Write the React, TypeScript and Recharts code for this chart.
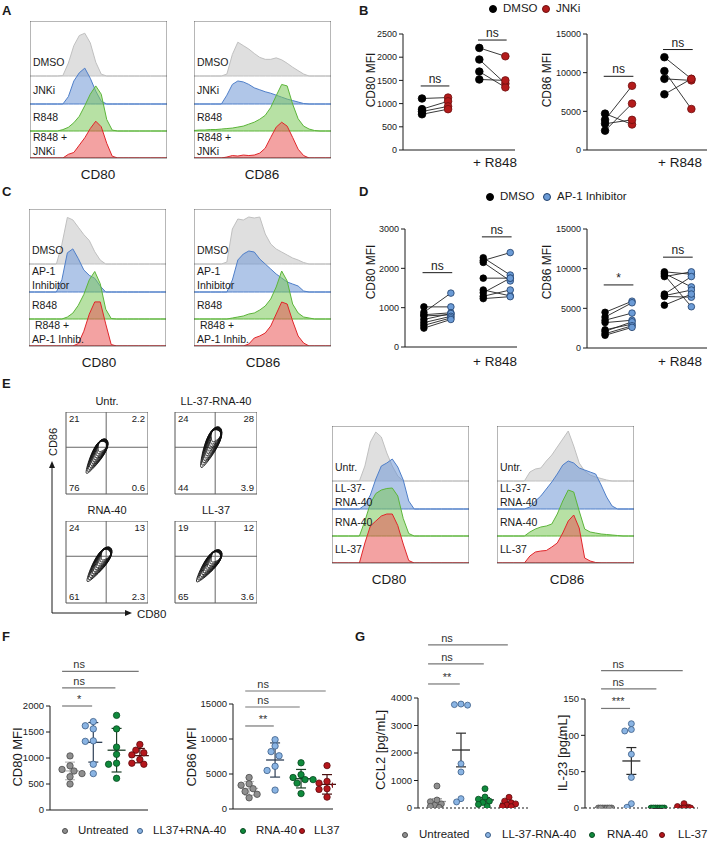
import React from "react";
import {
  ComposedChart,
  Area,
  Line,
  Scatter,
  XAxis,
  YAxis,
  ReferenceLine,
  ReferenceArea,
  ReferenceDot,
  Label,
} from "recharts";

const FONT = '"Liberation Sans", Arial, Helvetica, sans-serif';
const INK = "#1a1a1a";

/* ---------- A / C / E: histograms, counts as % of mode on a 0-100 channel grid ---------- */
const HIST_X = [0, 4, 8, 12, 16, 20, 24, 28, 32, 36, 40, 44, 48, 52, 56, 60, 64, 68, 72, 76, 80, 84, 88, 92, 96, 100];
const HIST_TICKS = [7, 14, 18, 20, 21, 22, 22.8, 23.5, 31, 39, 43, 46, 48, 49.5, 57, 66, 71, 75, 78, 80, 81.5, 91, 98];

const A80_DMSO = [0, 0, 0, 0, 0, 0, 1, 28, 66, 88, 93, 72, 30, 4, 0, 0, 0, 0, 0, 0, 0, 0, 0, 0, 0, 0];
const A80_JNKI = [0, 0, 0, 0, 0, 0, 0, 16, 50, 68, 78, 56, 28, 6, 0, 0, 0, 0, 0, 0, 0, 0, 0, 0, 0, 0];
const A80_R848 = [0, 0, 0, 0, 0, 0, 3, 8, 18, 32, 55, 80, 98, 80, 25, 2, 0, 0, 0, 0, 0, 0, 0, 0, 0, 0];
const A80_R848_JNKI = [0, 0, 0, 0, 0, 0, 0, 8, 12, 28, 44, 64, 80, 68, 32, 4, 0, 0, 0, 0, 0, 0, 0, 0, 0, 0];

const A86_DMSO = [0, 0, 0, 0, 0, 0, 4, 44, 69, 62, 55, 46, 38, 34, 34, 37, 33, 26, 18, 11, 4, 0, 0, 0, 0, 0];
const A86_JNKI = [0, 0, 0, 0, 0, 0, 18, 40, 47, 45, 40, 33, 29, 25, 22, 18, 14, 10, 7, 4, 1, 0, 0, 0, 0, 0];
const A86_R848 = [1, 2, 2, 3, 3, 4, 5, 6, 8, 10, 14, 18, 24, 32, 48, 72, 95, 92, 55, 25, 10, 4, 1, 0, 0, 0];
const A86_R848_JNKI = [0, 0, 0, 0, 0, 0, 2, 5, 4, 6, 5, 6, 10, 20, 42, 63, 73, 65, 42, 18, 5, 0, 0, 0, 0, 0];

const C80_DMSO = [0, 0, 0, 0, 0, 0, 40, 95, 90, 75, 60, 48, 25, 8, 0, 0, 0, 0, 0, 0, 0, 0, 0, 0, 0, 0];
const C80_AP1 = [0, 0, 0, 0, 0, 0, 25, 80, 88, 68, 45, 34, 28, 12, 0, 0, 0, 0, 0, 0, 0, 0, 0, 0, 0, 0];
const C80_R848 = [0, 0, 0, 0, 0, 0, 0, 4, 12, 28, 50, 80, 97, 72, 20, 1, 0, 0, 0, 0, 0, 0, 0, 0, 0, 0];
const C80_R848_AP1 = [0, 0, 0, 0, 0, 0, 0, 0, 0, 5, 30, 65, 90, 90, 45, 3, 0, 0, 0, 0, 0, 0, 0, 0, 0, 0];

const C86_DMSO = [0, 0, 0, 0, 0, 0, 4, 70, 90, 88, 94, 92, 94, 60, 40, 30, 24, 18, 12, 8, 3, 0, 0, 0, 0, 0];
const C86_AP1 = [0, 0, 0, 0, 0, 0, 0, 24, 64, 76, 82, 80, 66, 56, 46, 36, 28, 20, 16, 12, 2, 0, 0, 0, 0, 0];
const C86_R848 = [0, 0, 0, 0, 0, 0, 0, 2, 4, 6, 10, 12, 18, 26, 40, 64, 96, 76, 30, 12, 4, 2, 0, 0, 0, 0];
const C86_R848_AP1 = [0, 0, 0, 0, 0, 0, 0, 0, 0, 0, 4, 16, 20, 26, 40, 64, 88, 84, 50, 20, 6, 0, 0, 0, 0, 0];

const E80_UNTR = [0, 0, 0, 0, 0, 0, 30, 78, 98, 88, 56, 30, 10, 0, 0, 0, 0, 0, 0, 0, 0, 0, 0, 0, 0, 0];
const E80_LL37_RNA40 = [0, 0, 0, 0, 0, 0, 8, 28, 60, 86, 92, 100, 84, 58, 16, 0, 0, 0, 0, 0, 0, 0, 0, 0, 0, 0];
const E80_RNA40 = [0, 0, 0, 0, 0, 0, 30, 65, 85, 92, 95, 96, 80, 35, 5, 0, 0, 0, 0, 0, 0, 0, 0, 0, 0, 0];
const E80_LL37 = [0, 0, 0, 0, 0, 0, 40, 74, 84, 94, 98, 98, 75, 38, 5, 0, 0, 0, 0, 0, 0, 0, 0, 0, 0, 0];

const E86_UNTR = [0, 0, 0, 0, 0, 0, 18, 24, 26, 40, 52, 68, 84, 100, 70, 36, 20, 12, 8, 5, 2, 0, 0, 0, 0, 0];
const E86_LL37_RNA40 = [0, 0, 0, 0, 0, 0, 4, 16, 26, 40, 54, 70, 88, 96, 92, 82, 78, 74, 70, 48, 24, 6, 0, 0, 0, 0];
const E86_RNA40 = [0, 0, 0, 0, 0, 0, 8, 14, 18, 20, 24, 44, 70, 92, 88, 50, 14, 8, 6, 4, 3, 2, 1, 0, 0, 0];
const E86_LL37 = [0, 0, 0, 0, 0, 0, 14, 22, 24, 25, 32, 40, 60, 84, 96, 70, 10, 4, 1, 0, 0, 0, 0, 0, 0, 0];

const A_LANES = [["DMSO"], ["JNKi"], ["R848"], ["R848 +", "JNKi"]];
const C_LANES = [["DMSO"], ["AP-1", "Inhibitor"], ["R848"], ["\u00a0R848 +", "AP-1 Inhib."]];
const E_LANES = [["Untr."], ["LL-37-", "RNA-40"], ["RNA-40"], ["LL-37"]];

/* ---------- B / D: paired donors (MFI) ---------- */
const B80_DMSO = [1110, 880, 830, 770];
const B80_JNKI = [1130, 1050, 940, 880];
const B80_R848_DMSO = [2200, 1950, 1690, 1520];
const B80_R848_JNKI = [2020, 1430, 1350, 1500];
const B86_DMSO = [4700, 3900, 3400, 2500];
const B86_JNKI = [3300, 8300, 3900, 6000];
const B86_R848_DMSO = [12000, 10200, 9200, 7200];
const B86_R848_JNKI = [9200, 5300, 9000, 9200];
const B80_SIG = [1380, 2370];
const B86_SIG = [9530, 12990];

const D80_DMSO = [1020, 880, 820, 790, 700, 620, 550, 480];
const D80_AP1 = [1020, 1370, 870, 820, 850, 780, 740, 700];
const D80_R848_DMSO = [2270, 2200, 2150, 1750, 1450, 1380, 1290, 1230];
const D80_R848_AP1 = [1830, 2400, 1680, 1750, 1300, 1750, 1450, 1280];
const D86_DMSO = [4500, 3900, 3500, 3200, 2300, 2100, 1800, 1600];
const D86_AP1 = [5900, 5700, 4400, 3500, 3000, 3300, 2800, 2600];
const D86_R848_DMSO = [9600, 9400, 9200, 9000, 6800, 6600, 6500, 5400];
const D86_R848_AP1 = [9300, 7700, 5200, 9600, 9000, 7300, 6400, 6800];
const D80_SIG = [1890, 2800];
const D86_SIG = [7950, 11450];

/* ---------- E: contour populations (centre, half length, half width, tilt) ---------- */
const CONTOUR_TITLES = ["Untr.", "LL-37-RNA-40", "RNA-40", "LL-37"];
const CONTOUR_QUADS = [
  ["21", "2.2", "76", "0.6"],
  ["24", "28", "44", "3.9"],
  ["24", "13", "61", "2.3"],
  ["19", "12", "65", "3.6"],
];
const CONTOUR_BLOBS = [
  { cx: 37, cy: 46, len: 24, wid: 8.5, angle: 60 },
  { cx: 43, cy: 57, len: 27, wid: 9.5, angle: 66 },
  { cx: 40, cy: 47, len: 25, wid: 9, angle: 56 },
  { cx: 41, cy: 45, len: 24, wid: 9, angle: 53 },
];
const CONTOUR_TICKS_X = [8, 20, 24, 26, 27.5, 29, 45, 60, 68, 73, 76, 78, 80, 92];
const CONTOUR_TICKS_Y = [6, 30, 40, 46, 50, 53, 72, 92];

/* ---------- F / G: per-donor values ---------- */
const F_GROUPS = ["Untreated", "LL37+RNA-40", "RNA-40", "LL37"];
const G_GROUPS = ["Untreated", "LL-37-RNA-40", "RNA-40", "LL-37"];

const F80_UNTR = [1040, 850, 780, 750, 700, 640, 500];
const F80_LL37_RNA40 = [1700, 1620, 1560, 1330, 1320, 880, 700];
const F80_RNA40 = [1820, 1560, 1210, 1070, 900, 880, 610];
const F80_LL37 = [1260, 1150, 1100, 1060, 970, 900, 880];
const F86_UNTR = [4500, 3600, 3400, 2900, 2500, 2100, 1600];
const F86_LL37_RNA40 = [9900, 9000, 8200, 7600, 6100, 5500, 2700];
const F86_RNA40 = [6600, 4900, 4500, 4200, 4200, 3700, 2200];
const F86_LL37 = [6200, 3950, 3700, 3400, 2900, 2800, 1700];
const F80_SIG = [2000, 2350, 2665];
const F86_SIG = [11860, 14570, 16860];

const CCL2_UNTR = [800, 290, 230, 150, 100, 60, 20];
const CCL2_LL37_RNA40 = [3780, 3760, 3740, 1610, 1310, 340, 220];
const CCL2_RNA40 = [700, 400, 320, 250, 200, 130, 60];
const CCL2_LL37 = [390, 250, 190, 150, 110, 60, 50];
const IL23_UNTR = [0, 0, 0, 0, 0, 0, 0];
const IL23_LL37_RNA40 = [116, 108, 106, 74, 42, 6, 1];
const IL23_RNA40 = [0, 0, 0, 0, 0, 0, 0];
const IL23_LL37 = [6, 2, 1, 0, 0, 0, 0];
const CCL2_SIG = [4510, 5240, 5930];
const IL23_SIG = [137, 164, 189];

/* ---------- styles ---------- */
const LANE_STYLE = [
  { fill: "#d4d4d4", stroke: "#c0c0c0", opacity: 0.75 },
  { fill: "#6f98d6", stroke: "#4f7fc9", opacity: 0.55 },
  { fill: "#7cc85a", stroke: "#5cb53a", opacity: 0.55 },
  { fill: "#ea5656", stroke: "#e0262a", opacity: 0.55 },
];
const LANE_BASE = [82, 54, 27, 0];
const HIST_W = 137;
const HIST_H = 137;

const GROUP_STYLE = [
  { fill: "#8f8f8f", stroke: "#4d4d4d", barF: "#b8b8b8", barG: "#9a9a9a" },
  { fill: "#8ab4e3", stroke: "#3b5d86", barF: "#2e3f55", barG: "#2a2a2a" },
  { fill: "#0f8a3c", stroke: "#08481f", barF: "#1c3d26", barG: "#2a2a2a" },
  { fill: "#b5161c", stroke: "#5e0b0e", barF: "#4a1010", barG: "#2a2a2a" },
];

const PAIR_X = [
  [0, 1],
  [2.2, 3.2],
];

/* ---------- small helpers ---------- */
function Txt({
  x,
  y,
  size = 11,
  anchor = "start",
  bold = false,
  rotate = false,
  children,
}: {
  x: number;
  y: number;
  size?: number;
  anchor?: "start" | "middle" | "end";
  bold?: boolean;
  rotate?: boolean;
  children: React.ReactNode;
}) {
  const tx = anchor === "start" ? "0" : anchor === "middle" ? "-50%" : "-100%";
  return (
    <div
      style={{
        position: "absolute",
        left: x,
        top: y,
        transform: rotate ? "translate(-50%,-50%) rotate(-90deg)" : `translate(${tx},-50%)`,
        fontSize: size,
        fontWeight: bold ? 700 : 400,
        whiteSpace: "nowrap",
        lineHeight: 1.15,
      }}
    >
      {children}
    </div>
  );
}

function Dot({ x, y, r, fill, stroke }: { x: number; y: number; r: number; fill: string; stroke: string }) {
  return (
    <div
      style={{
        position: "absolute",
        left: x - r,
        top: y - r,
        width: r * 2,
        height: r * 2,
        boxSizing: "border-box",
        borderRadius: "50%",
        background: fill,
        border: `1px solid ${stroke}`,
      }}
    />
  );
}

const circle = (r: number, fill: string, stroke: string) => (p: any) =>
  <circle cx={p.cx} cy={p.cy} r={r} fill={fill} stroke={stroke} strokeWidth={0.8} />;

/* ---------- histogram overlay panel ---------- */
function HistBox({
  x,
  y,
  curves,
  scale,
  lanes,
  title,
  titleX,
}: {
  x: number;
  y: number;
  curves: number[][];
  scale: number;
  lanes: string[][];
  title: string;
  titleX: number;
}) {
  const rows = HIST_X.map((v, i) => ({ x: v, c0: curves[0][i], c1: curves[1][i], c2: curves[2][i], c3: curves[3][i] }));
  return (
    <>
      <div style={{ position: "absolute", left: x, top: y }}>
        <ComposedChart width={HIST_W} height={HIST_H + 4} data={rows} margin={{ top: 0, right: 0, bottom: 0, left: 0 }}>
          <XAxis
            dataKey="x"
            type="number"
            domain={[0, 100]}
            allowDataOverflow
            ticks={HIST_TICKS}
            interval={0}
            tick={false}
            tickSize={3}
            tickLine={{ stroke: "#333", strokeWidth: 0.7 }}
            axisLine={false}
            height={4}
          />
          <YAxis type="number" domain={[0, HIST_H]} allowDataOverflow hide />
          {LANE_STYLE.map((s, k) => (
            <Area
              key={k}
              type="linear"
              dataKey={(d: any) => [LANE_BASE[k], LANE_BASE[k] + d["c" + k] * scale]}
              fill={s.fill}
              fillOpacity={s.opacity}
              stroke={s.stroke}
              strokeWidth={1}
              dot={false}
              activeDot={false}
              isAnimationActive={false}
            />
          ))}
          <ReferenceArea x1={0} x2={100} y1={0} y2={HIST_H} fill="none" stroke="#4a4a4a" strokeWidth={0.8} />
        </ComposedChart>
      </div>
      {lanes.map((lines, k) => {
        const centre = y + (HIST_H - LANE_BASE[k]) - 14;
        return (
          <div
            key={k}
            style={{
              position: "absolute",
              left: x + 3,
              top: centre,
              transform: "translateY(-50%)",
              fontSize: 10.5,
              lineHeight: "14px",
              whiteSpace: "nowrap",
            }}
          >
            {lines.map((l, j) => (
              <div key={j}>{l}</div>
            ))}
          </div>
        );
      })}
      <Txt x={titleX} y={y + HIST_H + 17} size={13.5} anchor="middle">
        {title}
      </Txt>
    </>
  );
}

/* ---------- paired donor plot (B, D) ---------- */
function PairPlot({
  box,
  xDomain,
  yMax,
  yTicks,
  ctrl,
  trt,
  trtFill,
  trtStroke,
  r,
  sig,
  sigLabels,
}: {
  box: number[];
  xDomain: number[];
  yMax: number;
  yTicks: number[];
  ctrl: number[][];
  trt: number[][];
  trtFill: string;
  trtStroke: string;
  r: number;
  sig: number[];
  sigLabels: string[];
}) {
  const [px0, py0, px1, py1] = box;
  const yw = 34;
  const mt = 8;
  const mb = 4;
  const mr = 4;
  const pairs = ctrl.flatMap((g, gi) =>
    g.map((v, i) => [
      { x: PAIR_X[gi][0], y: v },
      { x: PAIR_X[gi][1], y: trt[gi][i] },
    ])
  );
  const ctrlPts = ctrl.flatMap((g, gi) => g.map((v) => ({ x: PAIR_X[gi][0], y: v })));
  const trtPts = trt.flatMap((g, gi) => g.map((v) => ({ x: PAIR_X[gi][1], y: v })));
  return (
    <div style={{ position: "absolute", left: px0 - yw, top: py0 - mt }}>
      <ComposedChart
        width={px1 - px0 + yw + mr}
        height={py1 - py0 + mt + mb + 1}
        margin={{ top: mt, right: mr, bottom: mb, left: 0 }}
      >
        <XAxis
          dataKey="x"
          type="number"
          domain={xDomain}
          allowDataOverflow
          tick={false}
          tickLine={false}
          axisLine={{ stroke: INK, strokeWidth: 1 }}
          height={1}
        />
        <YAxis
          dataKey="y"
          type="number"
          domain={[0, yMax]}
          allowDataOverflow
          ticks={yTicks}
          interval={0}
          width={yw}
          tickSize={4}
          tickMargin={2}
          tick={{ fontSize: 9, fill: INK }}
          axisLine={{ stroke: INK, strokeWidth: 1 }}
          tickLine={{ stroke: INK }}
        />
        {pairs.map((d, i) => (
          <Line
            key={i}
            data={d}
            dataKey="y"
            type="linear"
            stroke="#222"
            strokeWidth={0.9}
            dot={false}
            activeDot={false}
            isAnimationActive={false}
          />
        ))}
        <Scatter data={ctrlPts} dataKey="y" shape={circle(r, "#000", "#000")} isAnimationActive={false} />
        <Scatter data={trtPts} dataKey="y" shape={circle(r, trtFill, trtStroke)} isAnimationActive={false} />
        {sig.map((v, gi) => (
          <ReferenceLine
            key={"s" + gi}
            segment={[
              { x: PAIR_X[gi][0] - 0.05, y: v },
              { x: PAIR_X[gi][1] + 0.05, y: v },
            ]}
            stroke={INK}
            strokeWidth={1}
            ifOverflow="visible"
          />
        ))}
        {sig.map((v, gi) => (
          <ReferenceDot
            key={"l" + gi}
            x={(PAIR_X[gi][0] + PAIR_X[gi][1]) / 2}
            y={v}
            r={0}
            fill="none"
            stroke="none"
            ifOverflow="visible"
            label={{ value: sigLabels[gi], position: "top", offset: 3, fontSize: 12, fill: INK }}
          />
        ))}
      </ComposedChart>
    </div>
  );
}

/* ---------- simple beeswarm: horizontal offsets (px) so points do not overlap ---------- */
function swarm(vals: number[], pyPerUnit: number, step: number, thr: number) {
  const order = vals.map((_, i) => i).sort((a, b) => vals[b] - vals[a]);
  const placed: { dx: number; py: number }[] = [];
  const out = vals.map(() => 0);
  const cands = [0, -1, 1, -2, 2, -3, 3].map((k) => k * step);
  for (const i of order) {
    const py = vals[i] * pyPerUnit;
    let best = 0;
    let bestD = -1;
    for (const c of cands) {
      const d = placed.reduce((m, p) => Math.min(m, Math.hypot(p.dx - c, p.py - py)), Infinity);
      if (d >= thr) {
        best = c;
        break;
      }
      if (d > bestD) {
        bestD = d;
        best = c;
      }
    }
    placed.push({ dx: best, py });
    out[i] = best;
  }
  return out;
}

/* ---------- group dot plot with mean +/- SD (F) or SEM (G) ---------- */
function DotPlot({
  box,
  xDomain,
  yMax,
  yTicks,
  groups,
  r,
  step,
  sem,
  sig,
  sigLabels,
  sigStart,
  labelX,
}: {
  box: number[];
  xDomain: number[];
  yMax: number;
  yTicks: number[];
  groups: number[][];
  r: number;
  step: number;
  sem: boolean;
  sig: number[];
  sigLabels: string[];
  sigStart: number;
  labelX: number;
}) {
  const [px0, py0, px1, py1] = box;
  const yw = 34;
  const mt = 72;
  const mb = 6;
  const mr = 4;
  const pyPerUnit = (py1 - py0) / yMax;
  const pxPerX = (px1 - px0) / (xDomain[1] - xDomain[0]);
  const pts = groups.map((vals, gi) => {
    const offs = swarm(vals, pyPerUnit, step, 2 * r - 0.5);
    return vals.map((v, k) => ({ x: gi + offs[k] / pxPerX, y: v }));
  });
  const stats = groups.map((vals) => {
    const n = vals.length;
    const mean = vals.reduce((a, b) => a + b, 0) / n;
    const sd = Math.sqrt(vals.reduce((a, b) => a + (b - mean) * (b - mean), 0) / (n - 1));
    return { mean, err: sem ? sd / Math.sqrt(n) : sd };
  });
  const mw = 9 / pxPerX;
  const cw = 5 / pxPerX;
  return (
    <div style={{ position: "absolute", left: px0 - yw, top: py0 - mt }}>
      <ComposedChart
        width={px1 - px0 + yw + mr}
        height={py1 - py0 + mt + mb + 1}
        margin={{ top: mt, right: mr, bottom: mb, left: 0 }}
      >
        <XAxis
          dataKey="x"
          type="number"
          domain={xDomain}
          allowDataOverflow
          tick={false}
          tickLine={false}
          axisLine={sem ? false : { stroke: INK, strokeWidth: 1 }}
          height={1}
        />
        <YAxis
          dataKey="y"
          type="number"
          domain={[0, yMax]}
          allowDataOverflow
          ticks={yTicks}
          interval={0}
          width={yw}
          tickSize={4}
          tickMargin={2}
          tick={{ fontSize: 9.5, fill: INK }}
          axisLine={{ stroke: INK, strokeWidth: 1 }}
          tickLine={{ stroke: INK }}
        />
        {sem && <ReferenceLine y={0} stroke={INK} strokeWidth={1.2} strokeDasharray="2 2" />}
        {pts.map((d, gi) => (
          <Scatter
            key={gi}
            data={d}
            dataKey="y"
            shape={circle(r, GROUP_STYLE[gi].fill, GROUP_STYLE[gi].stroke)}
            isAnimationActive={false}
          />
        ))}
        {stats.map((s, gi) => {
          const c = sem ? GROUP_STYLE[gi].barG : GROUP_STYLE[gi].barF;
          const lo = Math.max(0, s.mean - s.err);
          const hi = s.mean + s.err;
          return [
            <ReferenceLine
              key={"m" + gi}
              segment={[
                { x: gi - mw, y: s.mean },
                { x: gi + mw, y: s.mean },
              ]}
              stroke={c}
              strokeWidth={1.3}
              ifOverflow="visible"
            />,
            <ReferenceLine
              key={"v" + gi}
              segment={[
                { x: gi, y: lo },
                { x: gi, y: hi },
              ]}
              stroke={c}
              strokeWidth={1.2}
              ifOverflow="visible"
            />,
            <ReferenceLine
              key={"h" + gi}
              segment={[
                { x: gi - cw, y: hi },
                { x: gi + cw, y: hi },
              ]}
              stroke={c}
              strokeWidth={1.2}
              ifOverflow="visible"
            />,
            <ReferenceLine
              key={"l" + gi}
              segment={[
                { x: gi - cw, y: lo },
                { x: gi + cw, y: lo },
              ]}
              stroke={c}
              strokeWidth={1.2}
              ifOverflow="visible"
            />,
          ];
        })}
        {sig.map((v, k) => (
          <ReferenceLine
            key={"s" + k}
            segment={[
              { x: sigStart, y: v },
              { x: k + 1 - 0.05, y: v },
            ]}
            stroke="#777"
            strokeWidth={1.2}
            ifOverflow="visible"
          />
        ))}
        {sig.map((v, k) => (
          <ReferenceDot
            key={"t" + k}
            x={labelX}
            y={v}
            r={0}
            fill="none"
            stroke="none"
            ifOverflow="visible"
            label={{ value: sigLabels[k], position: "top", offset: 3, fontSize: 11, fill: "#333" }}
          />
        ))}
      </ComposedChart>
    </div>
  );
}

/* ---------- contour plot (E) ---------- */
function ringsFor(b: { cx: number; cy: number; len: number; wid: number; angle: number }) {
  const a = (b.angle * Math.PI) / 180;
  const ux = Math.cos(a);
  const uy = Math.sin(a);
  const rings: { x: number; y: number }[][] = [];
  for (let k = 0; k < 12; k++) {
    const s = 1 - k * 0.065;
    const cx = b.cx + ux * b.len * (1 - s) * 0.78;
    const cy = b.cy + uy * b.len * (1 - s) * 0.78;
    const A = b.len * s;
    const pts: { x: number; y: number }[] = [];
    for (let j = 0; j < 32; j++) {
      const t = (j / 32) * 2 * Math.PI;
      // egg shape: wider towards the upper (bright) end
      const B = b.wid * (0.6 + 0.4 * s) * (0.78 + 0.32 * Math.cos(t));
      pts.push({
        x: cx + ux * A * Math.cos(t) - uy * B * Math.sin(t),
        y: cy + uy * A * Math.cos(t) + ux * B * Math.sin(t),
      });
    }
    rings.push(pts);
  }
  return rings;
}

function ContourPlot({ x, y, idx }: { x: number; y: number; idx: number }) {
  const W = 82;
  const H = 82;
  const q = CONTOUR_QUADS[idx];
  const rings = ringsFor(CONTOUR_BLOBS[idx]);
  const lab = { fontSize: 9.5, fill: INK, offset: 3 };
  return (
    <>
      <div style={{ position: "absolute", left: x - 4, top: y }}>
        <ComposedChart width={W + 4} height={H + 4} margin={{ top: 0, right: 0, bottom: 0, left: 0 }}>
          <XAxis
            dataKey="x"
            type="number"
            domain={[0, 100]}
            allowDataOverflow
            ticks={CONTOUR_TICKS_X}
            interval={0}
            tick={false}
            tickSize={3}
            tickLine={{ stroke: "#333", strokeWidth: 0.7 }}
            axisLine={false}
            height={4}
          />
          <YAxis
            dataKey="y"
            type="number"
            domain={[0, 100]}
            allowDataOverflow
            ticks={CONTOUR_TICKS_Y}
            interval={0}
            tick={false}
            tickSize={3}
            tickLine={{ stroke: "#333", strokeWidth: 0.7 }}
            axisLine={false}
            width={4}
          />
          <ReferenceLine x={49} stroke="#666" strokeWidth={1} />
          <ReferenceLine y={57} stroke="#666" strokeWidth={1} />
          {rings.map((d, i) => (
            <Line
              key={i}
              data={d}
              dataKey="y"
              type="linearClosed"
              stroke="#111"
              strokeWidth={0.9}
              dot={false}
              activeDot={false}
              isAnimationActive={false}
            />
          ))}
          <ReferenceArea x1={0} x2={100} y1={0} y2={100} fill="none" stroke="#555" strokeWidth={1}>
            <Label value={q[0]} position="insideTopLeft" {...lab} />
            <Label value={q[1]} position="insideTopRight" {...lab} />
            <Label value={q[2]} position="insideBottomLeft" {...lab} />
            <Label value={q[3]} position="insideBottomRight" {...lab} />
          </ReferenceArea>
        </ComposedChart>
      </div>
      <Txt x={x + W / 2} y={y - 11} size={11} anchor="middle">
        {CONTOUR_TITLES[idx]}
      </Txt>
    </>
  );
}

function Legend({ y, items, dotR }: { y: number; dotR: number; items: { dot: number; text: number; label: string; fill: string; stroke: string }[] }) {
  return (
    <>
      {items.map((it, i) => (
        <React.Fragment key={i}>
          <Dot x={it.dot} y={y} r={dotR} fill={it.fill} stroke={it.stroke} />
          <Txt x={it.text} y={y} size={11.5}>
            {it.label}
          </Txt>
        </React.Fragment>
      ))}
    </>
  );
}

export default function App() {
  const fLegend = F_GROUPS.map((g, i) => ({
    dot: [65, 140, 243, 302][i],
    text: [78, 153, 256, 314][i],
    label: g,
    fill: GROUP_STYLE[i].fill,
    stroke: GROUP_STYLE[i].stroke,
  }));
  const gLegend = G_GROUPS.map((g, i) => ({
    dot: [405, 488, 592, 662][i],
    text: [419, 502, 607, 678][i],
    label: g,
    fill: GROUP_STYLE[i].fill,
    stroke: GROUP_STYLE[i].stroke,
  }));
  return (
    <div
      style={{
        position: "absolute",
        left: 0,
        top: 0,
        width: 709,
        height: 843,
        background: "#fff",
        overflow: "hidden",
        fontFamily: FONT,
        color: INK,
      }}
    >
      {/* panel letters */}
      <Txt x={2} y={11} size={13} bold>A</Txt>
      <Txt x={359} y={11} size={13} bold>B</Txt>
      <Txt x={2} y={192} size={13} bold>C</Txt>
      <Txt x={359} y={192} size={13} bold>D</Txt>
      <Txt x={2} y={384} size={13} bold>E</Txt>
      <Txt x={2} y={637} size={13} bold>F</Txt>
      <Txt x={355} y={637} size={13} bold>G</Txt>

      {/* A */}
      <HistBox x={30} y={21} curves={[A80_DMSO, A80_JNKI, A80_R848, A80_R848_JNKI]} scale={0.46} lanes={A_LANES} title="CD80" titleX={98} />
      <HistBox x={194} y={21} curves={[A86_DMSO, A86_JNKI, A86_R848, A86_R848_JNKI]} scale={0.49} lanes={A_LANES} title="CD86" titleX={262} />

      {/* B */}
      <Legend
        y={9}
        dotR={4.3}
        items={[
          { dot: 493, text: 503, label: "DMSO", fill: "#000", stroke: "#000" },
          { dot: 546, text: 556, label: "JNKi", fill: "#b31b1b", stroke: "#6e0f0f" },
        ]}
      />
      <PairPlot
        box={[403, 34, 515, 150]}
        xDomain={[-0.73, 3.57]}
        yMax={2500}
        yTicks={[0, 500, 1000, 1500, 2000, 2500]}
        ctrl={[B80_DMSO, B80_R848_DMSO]}
        trt={[B80_JNKI, B80_R848_JNKI]}
        trtFill="#b31b1b"
        trtStroke="#6e0f0f"
        r={3.8}
        sig={B80_SIG}
        sigLabels={["ns", "ns"]}
      />
      <PairPlot
        box={[587, 34, 707, 150]}
        xDomain={[-0.67, 3.78]}
        yMax={15000}
        yTicks={[0, 5000, 10000, 15000]}
        ctrl={[B86_DMSO, B86_R848_DMSO]}
        trt={[B86_JNKI, B86_R848_JNKI]}
        trtFill="#b31b1b"
        trtStroke="#6e0f0f"
        r={3.8}
        sig={B86_SIG}
        sigLabels={["ns", "ns"]}
      />
      <Txt x={372} y={80} size={12} rotate>CD80 MFI</Txt>
      <Txt x={548} y={80} size={12} rotate>CD86 MFI</Txt>
      <Txt x={495} y={163} size={13.5} anchor="middle">+ R848</Txt>
      <Txt x={680} y={163} size={13.5} anchor="middle">+ R848</Txt>

      {/* C */}
      <HistBox x={29} y={209} curves={[C80_DMSO, C80_AP1, C80_R848, C80_R848_AP1]} scale={0.49} lanes={C_LANES} title="CD80" titleX={99} />
      <HistBox x={194} y={209} curves={[C86_DMSO, C86_AP1, C86_R848, C86_R848_AP1]} scale={0.5} lanes={C_LANES} title="CD86" titleX={263} />

      {/* D */}
      <Legend
        y={197}
        dotR={4}
        items={[
          { dot: 490, text: 500, label: "DMSO", fill: "#000", stroke: "#000" },
          { dot: 547, text: 557, label: "AP-1 Inhibitor", fill: "#6b9bd6", stroke: "#1f3f6b" },
        ]}
      />
      <PairPlot
        box={[405, 229, 517, 347]}
        xDomain={[-0.7, 3.45]}
        yMax={3000}
        yTicks={[0, 1000, 2000, 3000]}
        ctrl={[D80_DMSO, D80_R848_DMSO]}
        trt={[D80_AP1, D80_R848_AP1]}
        trtFill="#6b9bd6"
        trtStroke="#1f3f6b"
        r={3.3}
        sig={D80_SIG}
        sigLabels={["ns", "ns"]}
      />
      <PairPlot
        box={[587, 229, 707, 348]}
        xDomain={[-0.67, 3.78]}
        yMax={15000}
        yTicks={[0, 5000, 10000, 15000]}
        ctrl={[D86_DMSO, D86_R848_DMSO]}
        trt={[D86_AP1, D86_R848_AP1]}
        trtFill="#6b9bd6"
        trtStroke="#1f3f6b"
        r={3.3}
        sig={D86_SIG}
        sigLabels={["*", "ns"]}
      />
      <Txt x={372} y={272} size={12} rotate>CD80 MFI</Txt>
      <Txt x={548} y={272} size={12} rotate>CD86 MFI</Txt>
      <Txt x={495} y={362} size={13.5} anchor="middle">+ R848</Txt>
      <Txt x={680} y={362} size={13.5} anchor="middle">+ R848</Txt>

      {/* E contours */}
      <ContourPlot x={66} y={412} idx={0} />
      <ContourPlot x={175} y={412} idx={1} />
      <ContourPlot x={66} y={521} idx={2} />
      <ContourPlot x={175} y={521} idx={3} />
      <svg style={{ position: "absolute", left: 40, top: 455 }} width={100} height={170}>
        <line x1={12} y1={12} x2={12} y2={158} stroke={INK} strokeWidth={1} />
        <line x1={12} y1={158} x2={86} y2={158} stroke={INK} strokeWidth={1} />
        <polygon points="12,6 9,13 15,13" fill={INK} />
        <polygon points="92,158 85,155 85,161" fill={INK} />
      </svg>
      <Txt x={53} y={442} size={11} rotate>CD86</Txt>
      <Txt x={137} y={615} size={11.5}>CD80</Txt>

      {/* E histograms */}
      <HistBox x={332} y={426} curves={[E80_UNTR, E80_LL37_RNA40, E80_RNA40, E80_LL37]} scale={0.5} lanes={E_LANES} title="CD80" titleX={389} />
      <HistBox x={497} y={426} curves={[E86_UNTR, E86_LL37_RNA40, E86_RNA40, E86_LL37]} scale={0.5} lanes={E_LANES} title="CD86" titleX={567} />

      {/* F */}
      <DotPlot
        box={[50, 706, 148, 810]}
        xDomain={[-0.86, 3.35]}
        yMax={2000}
        yTicks={[0, 500, 1000, 1500, 2000]}
        groups={[F80_UNTR, F80_LL37_RNA40, F80_RNA40, F80_LL37]}
        r={3.2}
        step={4}
        sem={false}
        sig={F80_SIG}
        sigLabels={["*", "ns", "ns"]}
        sigStart={-0.34}
        labelX={0.39}
      />
      <DotPlot
        box={[233, 704, 333, 809]}
        xDomain={[-0.62, 3.23]}
        yMax={15000}
        yTicks={[0, 5000, 10000, 15000]}
        groups={[F86_UNTR, F86_LL37_RNA40, F86_RNA40, F86_LL37]}
        r={3.2}
        step={4}
        sem={false}
        sig={F86_SIG}
        sigLabels={["**", "ns", "ns"]}
        sigStart={-0.15}
        labelX={0.54}
      />
      <Txt x={18} y={757} size={13} rotate>CD80 MFI</Txt>
      <Txt x={192} y={757} size={13} rotate>CD86 MFI</Txt>
      <Legend y={831} dotR={3.3} items={fLegend} />

      {/* G */}
      <DotPlot
        box={[418, 698, 528, 808]}
        xDomain={[-0.79, 3.79]}
        yMax={4000}
        yTicks={[0, 1000, 2000, 3000, 4000]}
        groups={[CCL2_UNTR, CCL2_LL37_RNA40, CCL2_RNA40, CCL2_LL37]}
        r={3}
        step={2.2}
        sem
        sig={CCL2_SIG}
        sigLabels={["**", "ns", "ns"]}
        sigStart={-0.37}
        labelX={0.42}
      />
      <DotPlot
        box={[585, 699, 698, 808]}
        xDomain={[-0.76, 3.53]}
        yMax={150}
        yTicks={[0, 50, 100, 150]}
        groups={[IL23_UNTR, IL23_LL37_RNA40, IL23_RNA40, IL23_LL37]}
        r={3}
        step={2.2}
        sem
        sig={IL23_SIG}
        sigLabels={["***", "ns", "ns"]}
        sigStart={-0.15}
        labelX={0.5}
      />
      <Txt x={381} y={750} size={13} rotate>CCL2 [pg/mL]</Txt>
      <Txt x={563} y={753} size={13} rotate>IL-23 [pg/mL]</Txt>
      <Legend y={835} dotR={3.3} items={gLegend} />
    </div>
  );
}
